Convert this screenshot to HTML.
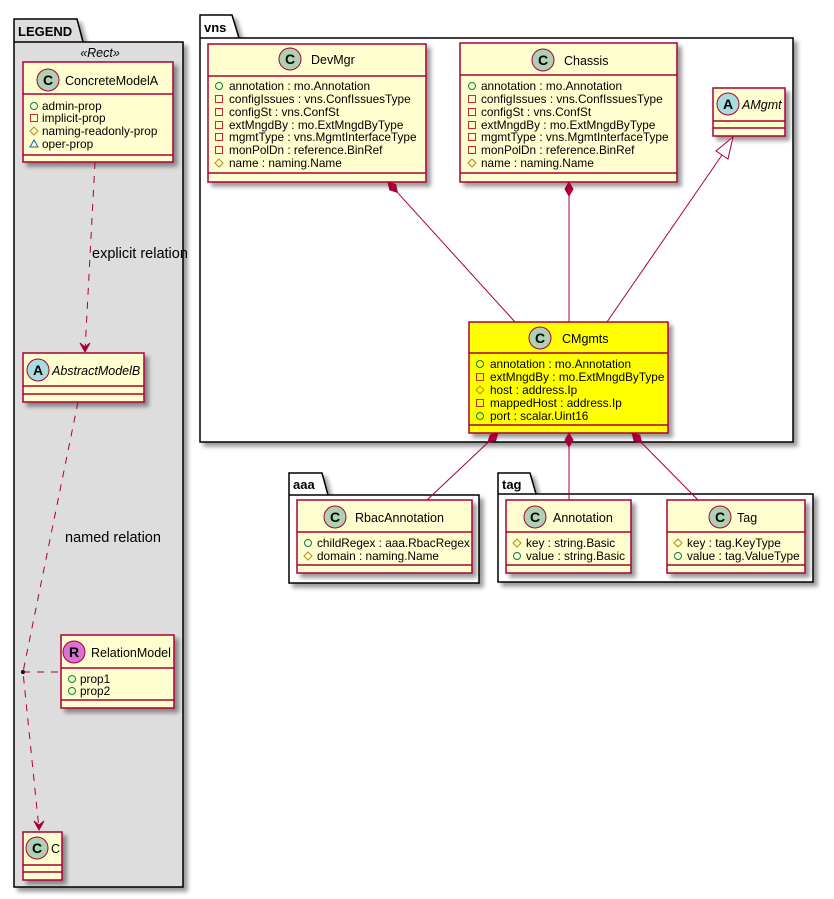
<!DOCTYPE html>
<html><head><meta charset="utf-8"><style>
html,body{margin:0;padding:0;background:#fff;}
svg{display:block;font-family:"Liberation Sans","DejaVu Sans",sans-serif;}
.t{font-size:12.5px;fill:#000;}
.a{font-size:11.8px;fill:#000;}
.lb{font-size:14.5px;fill:#000;}
.pk{font-size:13px;font-weight:bold;fill:#000;}
.box{fill:#FEFECE;stroke:#A80036;stroke-width:1.5;filter:url(#sh);}
.div{stroke:#A80036;stroke-width:1.5;}
.ln{stroke:#A80036;stroke-width:1;fill:none;}
.dl{stroke:#A80036;stroke-width:1;fill:none;stroke-dasharray:7,7;}
.pub{fill:none;stroke:#038048;stroke-width:1;}
.pri{fill:none;stroke:#C82930;stroke-width:1;}
.pro{fill:none;stroke:#B38D22;stroke-width:1;}
.dm{fill:#A80036;stroke:#A80036;}
</style></head><body>
<svg width="834" height="899" viewBox="0 0 834 899" xmlns="http://www.w3.org/2000/svg">
<defs>
<filter id="sh" x="-10%" y="-10%" width="130%" height="130%">
<feGaussianBlur in="SourceAlpha" stdDeviation="2"/>
<feOffset dx="4" dy="4" result="o"/>
<feComponentTransfer><feFuncA type="linear" slope="0.4"/></feComponentTransfer>
<feMerge><feMergeNode/><feMergeNode in="SourceGraphic"/></feMerge>
</filter>
</defs>

<!-- LEGEND package -->
<path d="M14,42 L14,19 L77,19 L83,42 L183,42 L183,887 L14,887 Z" fill="#DDDDDD" stroke="#000" stroke-width="1.5" filter="url(#sh)"/>
<line x1="14" y1="42" x2="83" y2="42" stroke="#000" stroke-width="1.5"/>
<text x="18" y="36" class="pk">LEGEND</text>
<text x="100" y="57" class="t" text-anchor="middle" font-style="italic">«Rect»</text>

<!-- ConcreteModelA -->
<rect x="23" y="62" width="150" height="100" class="box"/>
<line x1="23" y1="94" x2="173" y2="94" class="div"/>
<line x1="23" y1="155" x2="173" y2="155" class="div"/>
<circle cx="48" cy="80" r="11" fill="#ADD1B2" stroke="#A80036"/>
<text x="48" y="85" text-anchor="middle" font-size="14" font-weight="bold">C</text>
<text x="65" y="85" class="t">ConcreteModelA</text>
<circle cx="34" cy="106" r="3.5" class="pub"/><text x="42" y="110" class="a">admin-prop</text>
<rect x="30.5" y="114.5" width="7" height="7" class="pri"/><text x="42" y="122" class="a">implicit-prop</text>
<path d="M34,127 L38,131 L34,135 L30,131 Z" class="pro"/><text x="42" y="135" class="a">naming-readonly-prop</text>
<path d="M34,140 L38,147 L30,147 Z" fill="none" stroke="#1963A0"/><text x="42" y="148" class="a">oper-prop</text>

<!-- explicit relation -->
<line x1="95" y1="162" x2="85" y2="351" class="dl"/>
<path d="M80,343 L85,352 L90,343 L85,347 Z" fill="#A80036" stroke="#A80036"/>
<text x="92" y="258" class="lb">explicit relation</text>

<!-- AbstractModelB -->
<rect x="23" y="353" width="121" height="49" class="box"/>
<line x1="23" y1="386" x2="144" y2="386" class="div"/>
<line x1="23" y1="394" x2="144" y2="394" class="div"/>
<circle cx="38" cy="370" r="11" fill="#A9DCDF" stroke="#A80036"/>
<text x="38" y="375" text-anchor="middle" font-size="14" font-weight="bold">A</text>
<text x="52" y="375" class="t" font-style="italic">AbstractModelB</text>

<!-- named relation -->
<path d="M78,402 L23,672 L39,829" class="dl"/>
<path d="M34,821 L39,830 L44,821 L39,825 Z" fill="#A80036" stroke="#A80036"/>
<circle cx="23" cy="672" r="2" fill="#000"/>
<line x1="23" y1="672" x2="61" y2="672" class="dl"/>
<text x="65" y="542" class="lb">named relation</text>

<!-- RelationModel -->
<rect x="61" y="635" width="113" height="73" class="box"/>
<line x1="61" y1="668" x2="174" y2="668" class="div"/>
<line x1="61" y1="700" x2="174" y2="700" class="div"/>
<circle cx="74" cy="652" r="11" fill="#DA70D6" stroke="#A80036"/>
<text x="74" y="657" text-anchor="middle" font-size="14" font-weight="bold">R</text>
<text x="91" y="657" class="t">RelationModel</text>
<circle cx="72" cy="679" r="3.5" class="pub"/><text x="80" y="683" class="a">prop1</text>
<circle cx="72" cy="691" r="3.5" class="pub"/><text x="80" y="695" class="a">prop2</text>

<!-- C -->
<rect x="23" y="832" width="39" height="48" class="box"/>
<line x1="23" y1="865" x2="62" y2="865" class="div"/>
<line x1="23" y1="872" x2="62" y2="872" class="div"/>
<circle cx="37" cy="848" r="11" fill="#ADD1B2" stroke="#A80036"/>
<text x="37" y="853" text-anchor="middle" font-size="14" font-weight="bold">C</text>
<text x="51" y="853" class="t">C</text>

<!-- vns package -->
<path d="M200,38 L200,15 L232,15 L239,38 L793,38 L793,442 L200,442 Z" fill="#fff" stroke="#000" stroke-width="1.5" filter="url(#sh)"/>
<line x1="200" y1="38" x2="239" y2="38" stroke="#000" stroke-width="1.5"/>
<text x="204" y="32" class="pk">vns</text>

<!-- DevMgr -->
<rect x="208" y="44" width="218" height="138" class="box"/>
<line x1="208" y1="76" x2="426" y2="76" class="div"/>
<line x1="208" y1="173" x2="426" y2="173" class="div"/>
<circle cx="290" cy="59" r="11" fill="#ADD1B2" stroke="#A80036"/>
<text x="290" y="64" text-anchor="middle" font-size="14" font-weight="bold">C</text>
<text x="311" y="64" class="t">DevMgr</text>
<circle cx="219" cy="86" r="3.5" class="pub"/><text x="229" y="90" class="a">annotation : mo.Annotation</text>
<rect x="215.5" y="95.5" width="7" height="7" class="pri"/><text x="229" y="103" class="a">configIssues : vns.ConfIssuesType</text>
<rect x="215.5" y="108.5" width="7" height="7" class="pri"/><text x="229" y="116" class="a">configSt : vns.ConfSt</text>
<rect x="215.5" y="121.5" width="7" height="7" class="pri"/><text x="229" y="129" class="a">extMngdBy : mo.ExtMngdByType</text>
<rect x="215.5" y="133.5" width="7" height="7" class="pri"/><text x="229" y="141" class="a">mgmtType : vns.MgmtInterfaceType</text>
<rect x="215.5" y="146.5" width="7" height="7" class="pri"/><text x="229" y="154" class="a">monPolDn : reference.BinRef</text>
<path d="M219,159 L223,163 L219,167 L215,163 Z" class="pro"/><text x="229" y="167" class="a">name : naming.Name</text>

<!-- Chassis -->
<rect x="460" y="43" width="217" height="139" class="box"/>
<line x1="460" y1="75" x2="677" y2="75" class="div"/>
<line x1="460" y1="173" x2="677" y2="173" class="div"/>
<circle cx="543" cy="60" r="11" fill="#ADD1B2" stroke="#A80036"/>
<text x="543" y="65" text-anchor="middle" font-size="14" font-weight="bold">C</text>
<text x="564" y="65" class="t">Chassis</text>
<circle cx="472" cy="86" r="3.5" class="pub"/><text x="481" y="90" class="a">annotation : mo.Annotation</text>
<rect x="468.5" y="95.5" width="7" height="7" class="pri"/><text x="481" y="103" class="a">configIssues : vns.ConfIssuesType</text>
<rect x="468.5" y="108.5" width="7" height="7" class="pri"/><text x="481" y="116" class="a">configSt : vns.ConfSt</text>
<rect x="468.5" y="121.5" width="7" height="7" class="pri"/><text x="481" y="129" class="a">extMngdBy : mo.ExtMngdByType</text>
<rect x="468.5" y="133.5" width="7" height="7" class="pri"/><text x="481" y="141" class="a">mgmtType : vns.MgmtInterfaceType</text>
<rect x="468.5" y="146.5" width="7" height="7" class="pri"/><text x="481" y="154" class="a">monPolDn : reference.BinRef</text>
<path d="M472,159 L476,163 L472,167 L468,163 Z" class="pro"/><text x="481" y="167" class="a">name : naming.Name</text>

<!-- AMgmt -->
<rect x="713" y="88" width="72" height="48" class="box"/>
<line x1="713" y1="121" x2="785" y2="121" class="div"/>
<line x1="713" y1="128" x2="785" y2="128" class="div"/>
<circle cx="728" cy="104" r="11" fill="#A9DCDF" stroke="#A80036"/>
<text x="728" y="109" text-anchor="middle" font-size="14" font-weight="bold">A</text>
<text x="742" y="109" class="t" font-style="italic">AMgmt</text>

<!-- connectors in vns -->
<line x1="397.4" y1="192.4" x2="515" y2="322" class="ln"/>
<path d="M388,182 L395.7,184.5 L397.4,192.4 L389.7,189.9 Z" class="dm"/>
<line x1="569" y1="196" x2="569" y2="322" class="ln"/>
<path d="M569,182 L573,189 L569,196 L565,189 Z" class="dm"/>
<line x1="722" y1="155" x2="607" y2="322" class="ln"/>
<path d="M733,137 L716,151 L728,159 Z" fill="#fff" stroke="#A80036"/>

<!-- CMgmts -->
<rect x="469" y="322" width="199" height="111" class="box" style="fill:#FFFF00"/>
<line x1="469" y1="353" x2="668" y2="353" class="div"/>
<line x1="469" y1="425" x2="668" y2="425" class="div"/>
<circle cx="540" cy="338" r="11" fill="#ADD1B2" stroke="#A80036"/>
<text x="540" y="343" text-anchor="middle" font-size="14" font-weight="bold">C</text>
<text x="562" y="343" class="t">CMgmts</text>
<circle cx="480" cy="364" r="3.5" class="pub"/><text x="490" y="368" class="a">annotation : mo.Annotation</text>
<rect x="476.5" y="373.5" width="7" height="7" class="pri"/><text x="490" y="381" class="a">extMngdBy : mo.ExtMngdByType</text>
<path d="M480,386 L484,390 L480,394 L476,390 Z" class="pro"/><text x="490" y="394" class="a">host : address.Ip</text>
<rect x="476.5" y="399.5" width="7" height="7" class="pri"/><text x="490" y="407" class="a">mappedHost : address.Ip</text>
<circle cx="480" cy="416" r="3.5" class="pub"/><text x="490" y="420" class="a">port : scalar.Uint16</text>

<!-- aaa package -->
<path d="M289,495 L289,473 L322,473 L328,495 L479,495 L479,583 L289,583 Z" fill="#fff" stroke="#000" stroke-width="1.5" filter="url(#sh)"/>
<line x1="289" y1="495" x2="328" y2="495" stroke="#000" stroke-width="1.5"/>
<text x="293" y="489" class="pk">aaa</text>
<rect x="297" y="500" width="175" height="73" class="box"/>
<line x1="297" y1="532" x2="472" y2="532" class="div"/>
<line x1="297" y1="565" x2="472" y2="565" class="div"/>
<circle cx="335" cy="517" r="11" fill="#ADD1B2" stroke="#A80036"/>
<text x="335" y="522" text-anchor="middle" font-size="14" font-weight="bold">C</text>
<text x="355" y="522" class="t">RbacAnnotation</text>
<circle cx="308" cy="543" r="3.5" class="pub"/><text x="317" y="547" class="a">childRegex : aaa.RbacRegex</text>
<path d="M308,552 L312,556 L308,560 L304,556 Z" class="pro"/><text x="317" y="560" class="a">domain : naming.Name</text>

<!-- tag package -->
<path d="M498,494 L498,473 L530,473 L536,494 L813,494 L813,582 L498,582 Z" fill="#fff" stroke="#000" stroke-width="1.5" filter="url(#sh)"/>
<line x1="498" y1="494" x2="536" y2="494" stroke="#000" stroke-width="1.5"/>
<text x="502" y="489" class="pk">tag</text>
<rect x="506" y="500" width="125" height="73" class="box"/>
<line x1="506" y1="532" x2="631" y2="532" class="div"/>
<line x1="506" y1="565" x2="631" y2="565" class="div"/>
<circle cx="535" cy="517" r="11" fill="#ADD1B2" stroke="#A80036"/>
<text x="535" y="522" text-anchor="middle" font-size="14" font-weight="bold">C</text>
<text x="553" y="522" class="t">Annotation</text>
<path d="M517,539 L521,543 L517,547 L513,543 Z" class="pro"/><text x="526" y="547" class="a">key : string.Basic</text>
<circle cx="517" cy="556" r="3.5" class="pub"/><text x="526" y="560" class="a">value : string.Basic</text>

<rect x="667" y="500" width="138" height="73" class="box"/>
<line x1="667" y1="532" x2="805" y2="532" class="div"/>
<line x1="667" y1="565" x2="805" y2="565" class="div"/>
<circle cx="720" cy="517" r="11" fill="#ADD1B2" stroke="#A80036"/>
<text x="720" y="522" text-anchor="middle" font-size="14" font-weight="bold">C</text>
<text x="737" y="522" class="t">Tag</text>
<path d="M678,539 L682,543 L678,547 L674,543 Z" class="pro"/><text x="687" y="547" class="a">key : tag.KeyType</text>
<circle cx="678" cy="556" r="3.5" class="pub"/><text x="687" y="560" class="a">value : tag.ValueType</text>

<!-- CMgmts bottom compositions -->
<line x1="487.8" y1="442.6" x2="427" y2="500" class="ln"/>
<path d="M498,433 L495.6,440.7 L487.8,442.6 L490.2,434.9 Z" class="dm"/>
<line x1="569" y1="447" x2="569" y2="500" class="ln"/>
<path d="M569,433 L573,440 L569,447 L565,440 Z" class="dm"/>
<line x1="641.8" y1="443" x2="698" y2="500" class="ln"/>
<path d="M632,433 L639.8,435.2 L641.8,443 L634.1,440.8 Z" class="dm"/>
</svg>
</body></html>
